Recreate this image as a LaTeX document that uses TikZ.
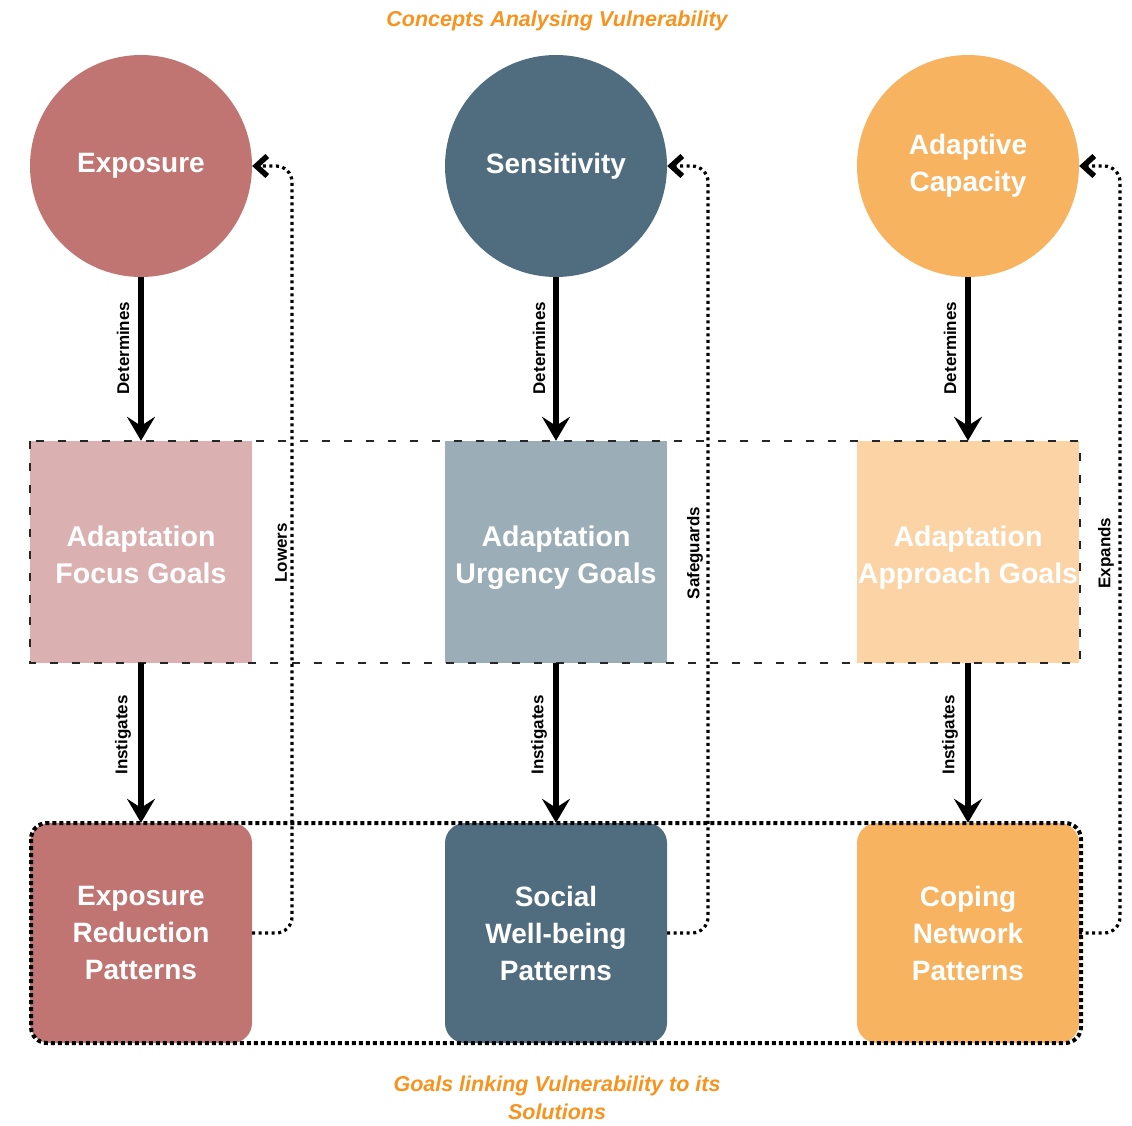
\documentclass[tikz,border=0pt]{standalone}
\usepackage{fontspec}
\setmainfont{Liberation Sans}
\usetikzlibrary{arrows.meta}
\definecolor{expC}{HTML}{C07573}
\definecolor{senC}{HTML}{4F6D7E}
\definecolor{adaC}{HTML}{F7B360}
\definecolor{expL}{HTML}{DBB0B1}
\definecolor{senL}{HTML}{9BAEB7}
\definecolor{adaL}{HTML}{FCD3A5}
\definecolor{titleC}{HTML}{F7931E}
\begin{document}
\begin{tikzpicture}[x=1pt,y=-1pt,
  circ/.style={circle, minimum size=222pt, inner sep=0pt, text=white, align=center,
    font=\fontsize{28}{37}\selectfont\bfseries},
  goal/.style={rectangle, minimum width=222pt, minimum height=222pt, inner sep=0pt},
  goaltxt/.style={text=white, align=center, inner sep=0pt, yshift=-6pt, text depth=6.5pt,
    font=\fontsize{28.5}{37}\selectfont\bfseries},
  patt/.style={rectangle, rounded corners=20pt, minimum width=222pt, minimum height=220pt, inner sep=0pt, text=white, align=center,
    font=\fontsize{28}{37}\selectfont\bfseries},
  bigarrow/.style={line width=6pt, -{Stealth[length=24pt,width=28pt,inset=9pt]}},
  feedback/.style={line width=3.2pt, dash pattern=on 3pt off 3.5pt, rounded corners=16pt,
    -{Straight Barb[length=11pt,width=20pt,line width=5.5pt]}},
  lbl/.style={font=\fontsize{17}{19}\selectfont\bfseries, rotate=90, inner sep=0pt},
  ttl/.style={text=titleC, font=\fontsize{21.5}{28}\selectfont\bfseries\itshape, align=center}
]
\useasboundingbox (0,0) rectangle (1132,1125);

% titles
\node[ttl] (top) at (557,21) {Concepts Analysing Vulnerability};
\node[ttl] (bot) at (557,1098) {Goals linking Vulnerability to its\\Solutions};

% circles
\node[circ, fill=expC] (c1) at (141,166) {Exposure};
\node[circ, fill=senC] (c2) at (556,166) {Sensitivity};
\node[circ, fill=adaC] (c3) at (968,166) {Adaptive\\Capacity};

% goals
\node[goal, fill=expL, label={[goaltxt]center:{Adaptation\\Focus Goals}}] (g1) at (141,552) {};
\node[goal, fill=senL, label={[goaltxt]center:{Adaptation\\Urgency Goals}}] (g2) at (556,552) {};
\node[goal, fill=adaL, label={[goaltxt]center:{Adaptation\\Approach Goals}}] (g3) at (968,552) {};

% patterns
\node[patt, fill=expC] (p1) at (141,933) {Exposure\\Reduction\\Patterns};
\node[patt, fill=senC] (p2) at (556,933) {Social\\Well-being\\Patterns};
\node[patt, fill=adaC] (p3) at (968,933) {Coping\\Network\\Patterns};

% dashed band
\draw[line width=1.3pt, black!85, dash pattern=on 8pt off 14pt] (30,441) rectangle (1080,663);
% dotted container
\draw[line width=4pt, dash pattern=on 4pt off 3pt, rounded corners=16pt] (31,823) rectangle (1081,1043);

% thick arrows
\draw[bigarrow] (c1.south) -- (g1.north);
\draw[bigarrow] (c2.south) -- (g2.north);
\draw[bigarrow] (c3.south) -- (g3.north);
\draw[bigarrow] (g1.south) -- (p1.north);
\draw[bigarrow] (g2.south) -- (p2.north);
\draw[bigarrow] (g3.south) -- (p3.north);

\node[lbl] (l1) at (123,348) {Determines};
\node[lbl] (l2) at (539,348) {Determines};
\node[lbl] (l3) at (950,348) {Determines};
\node[lbl] (i1) at (123,735) {Instigates};
\node[lbl] (i2) at (539,735) {Instigates};
\node[lbl] (i3) at (950,735) {Instigates};

% feedback
\draw[feedback] (p1.east) -| (292,166) -- (c1.east);
\draw[feedback] (p2.east) -| (708,166) -- (c2.east);
\draw[feedback] (p3.east) -| (1120,166) -- (c3.east);

\node[lbl] (f1) at (281,553) {Lowers};
\node[lbl] (f2) at (695,553) {Safeguards};
\node[lbl] (f3) at (1106,553) {Expands};
\end{tikzpicture}
\end{document}
